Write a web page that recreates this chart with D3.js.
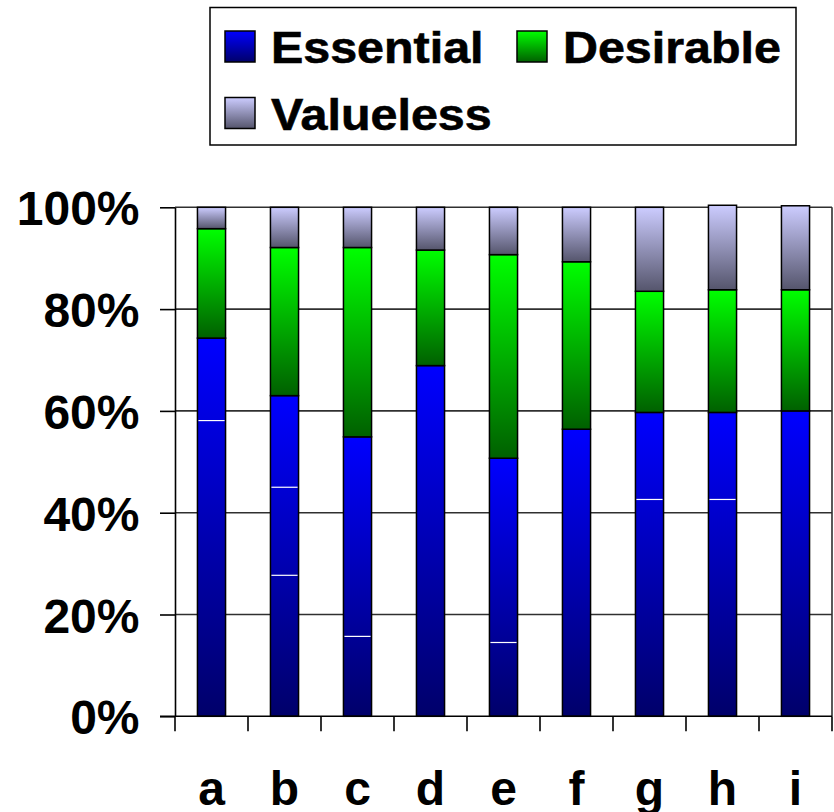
<!DOCTYPE html>
<html>
<head>
<meta charset="utf-8">
<script src="https://cdn.jsdelivr.net/npm/d3@7"></script>
<style>
  html, body { margin: 0; padding: 0; background: #fff; }
  svg { display: block; }
  text { font-family: "Liberation Sans", Arial, sans-serif; font-weight: bold; fill: #000; }
</style>
</head>
<body>
<svg id="chart" width="834" height="812"></svg>
<script>
// ---- data ----
const categories = ["a", "b", "c", "d", "e", "f", "g", "h", "i"];
const seriesNames = ["Essential", "Desirable", "Valueless"];
const essential = [74.3, 63.0, 54.9, 68.9, 50.7, 56.4, 59.7, 59.7, 60.0];
const desirable = [21.5, 29.1, 37.2, 22.7, 40.0, 32.9, 23.8, 24.1, 23.8];
const valueless = [4.2, 7.9, 7.9, 8.4, 9.3, 10.7, 16.5, 16.6, 16.5];
// thin white separator lines seen inside the Essential segments (value, %)
const essentialSplits = [[58.1], [45.0, 27.7], [15.7], [], [14.5], [], [42.6], [42.6], []];
const yTicks = [0, 20, 40, 60, 80, 100];

const svg = d3.select("#chart");
const plot = { left: 175, right: 832, top: 207.3, bottom: 716.3 };
const legendStretch = 1.1; // legend text in the original is horizontally stretched

const x = d3.scaleBand().domain(categories).range([plot.left, plot.right]).padding(0);
const y = d3.scaleLinear().domain([0, 100]).range([plot.bottom, plot.top]);
const barW = x.bandwidth() * 0.385;

// gradients
const defs = svg.append("defs");
const grads = [
  { id: "gE", top: "#0000ff", bottom: "#00006a" },
  { id: "gD", top: "#00ff00", bottom: "#006000" },
  { id: "gV", top: "#ccccff", bottom: "#55556c" }
];
grads.forEach(g => {
  const lg = defs.append("linearGradient").attr("id", g.id)
    .attr("x1", 0).attr("y1", 0).attr("x2", 0).attr("y2", 1);
  lg.append("stop").attr("offset", "0%").attr("stop-color", g.top);
  lg.append("stop").attr("offset", "100%").attr("stop-color", g.bottom);
});
const fills = ["url(#gE)", "url(#gD)", "url(#gV)"];

// gridlines
svg.append("g").selectAll("line").data(yTicks.filter(t => t > 0)).join("line")
  .attr("x1", plot.left).attr("x2", plot.right)
  .attr("y1", d => y(d)).attr("y2", d => y(d))
  .attr("stroke", "#303030").attr("stroke-width", 1.6);

// right border of plot area
svg.append("line").attr("x1", plot.right).attr("x2", plot.right)
  .attr("y1", y(100)).attr("y2", y(0)).attr("stroke", "#303030").attr("stroke-width", 1.6);

// stacked data
const table = categories.map((c, i) => ({ cat: c, Essential: essential[i], Desirable: desirable[i], Valueless: valueless[i] }));
const stacked = d3.stack().keys(seriesNames)(table);

const barsG = svg.append("g");
stacked.forEach((layer, si) => {
  barsG.append("g").selectAll("rect").data(layer).join("rect")
    .attr("x", d => x(d.data.cat) + x.bandwidth() / 2 - barW / 2)
    .attr("width", barW)
    .attr("y", d => y(d[1]))
    .attr("height", d => y(d[0]) - y(d[1]))
    .attr("fill", fills[si])
    .attr("stroke", "#000").attr("stroke-width", 1.5);
});

// white separator lines
const splitData = [];
essentialSplits.forEach((arr, i) => arr.forEach(v => splitData.push({ cat: categories[i], v })));
barsG.append("g").selectAll("line").data(splitData).join("line")
  .attr("x1", d => x(d.cat) + x.bandwidth() / 2 - barW / 2 + 1)
  .attr("x2", d => x(d.cat) + x.bandwidth() / 2 + barW / 2 - 1)
  .attr("y1", d => y(d.v)).attr("y2", d => y(d.v))
  .attr("stroke", "#fff").attr("stroke-width", 1.2);

// y axis
const yAxis = svg.append("g").attr("transform", `translate(${plot.left},0)`)
  .call(d3.axisLeft(y).tickValues(yTicks).tickSize(15).tickSizeOuter(0).tickFormat(d => d + "%"));
yAxis.select(".domain").attr("stroke", "#000").attr("stroke-width", 1.6);
yAxis.selectAll(".tick line").attr("stroke", "#000").attr("stroke-width", 1.6);
yAxis.selectAll(".tick text")
  .attr("x", -35.5).attr("y", 17.5).attr("dy", null)
  .attr("text-anchor", "end")
  .style("font-size", "48px");

// x axis (labels at band centres, ticks at band boundaries)
const xAxis = svg.append("g").attr("transform", `translate(0,${plot.bottom})`)
  .call(d3.axisBottom(x).tickSize(0).tickSizeOuter(0));
xAxis.select(".domain").remove();
xAxis.selectAll(".tick text")
  .attr("y", 89).attr("dy", null)
  .attr("text-anchor", "middle")
  .style("font-size", "48px");
svg.append("line").attr("x1", plot.left - 15).attr("x2", plot.right)
  .attr("y1", plot.bottom).attr("y2", plot.bottom)
  .attr("stroke", "#000").attr("stroke-width", 1.6);
const bounds = categories.map(c => x(c)).concat([x.range()[1]]);
svg.append("g").selectAll("line").data(bounds).join("line")
  .attr("x1", d => d).attr("x2", d => d)
  .attr("y1", plot.bottom).attr("y2", plot.bottom + 15)
  .attr("stroke", "#000").attr("stroke-width", 1.6);

// legend
const lg = svg.append("g");
lg.append("rect").attr("x", 210).attr("y", 7.5).attr("width", 586).attr("height", 137.5)
  .attr("fill", "#fff").attr("stroke", "#000").attr("stroke-width", 1.5);
const legendItems = [
  { name: seriesNames[0], fill: fills[0], sx: 225, sy: 31, tx: 271 },
  { name: seriesNames[1], fill: fills[1], sx: 517, sy: 31, tx: 563 },
  { name: seriesNames[2], fill: fills[2], sx: 225, sy: 97.5, tx: 271 }
];
const li = lg.selectAll("g.item").data(legendItems).join("g").attr("class", "item");
li.append("rect").attr("x", d => d.sx).attr("y", d => d.sy).attr("width", 30).attr("height", 31)
  .attr("fill", d => d.fill).attr("stroke", "#000").attr("stroke-width", 1.5);
li.append("text")
  .attr("transform", d => `translate(${d.tx},${d.sy + 32}) scale(${legendStretch},1)`)
  .style("font-size", "44px")
  .attr("stroke", "#000").attr("stroke-width", 0.6)
  .text(d => d.name);
</script>
</body>
</html>
